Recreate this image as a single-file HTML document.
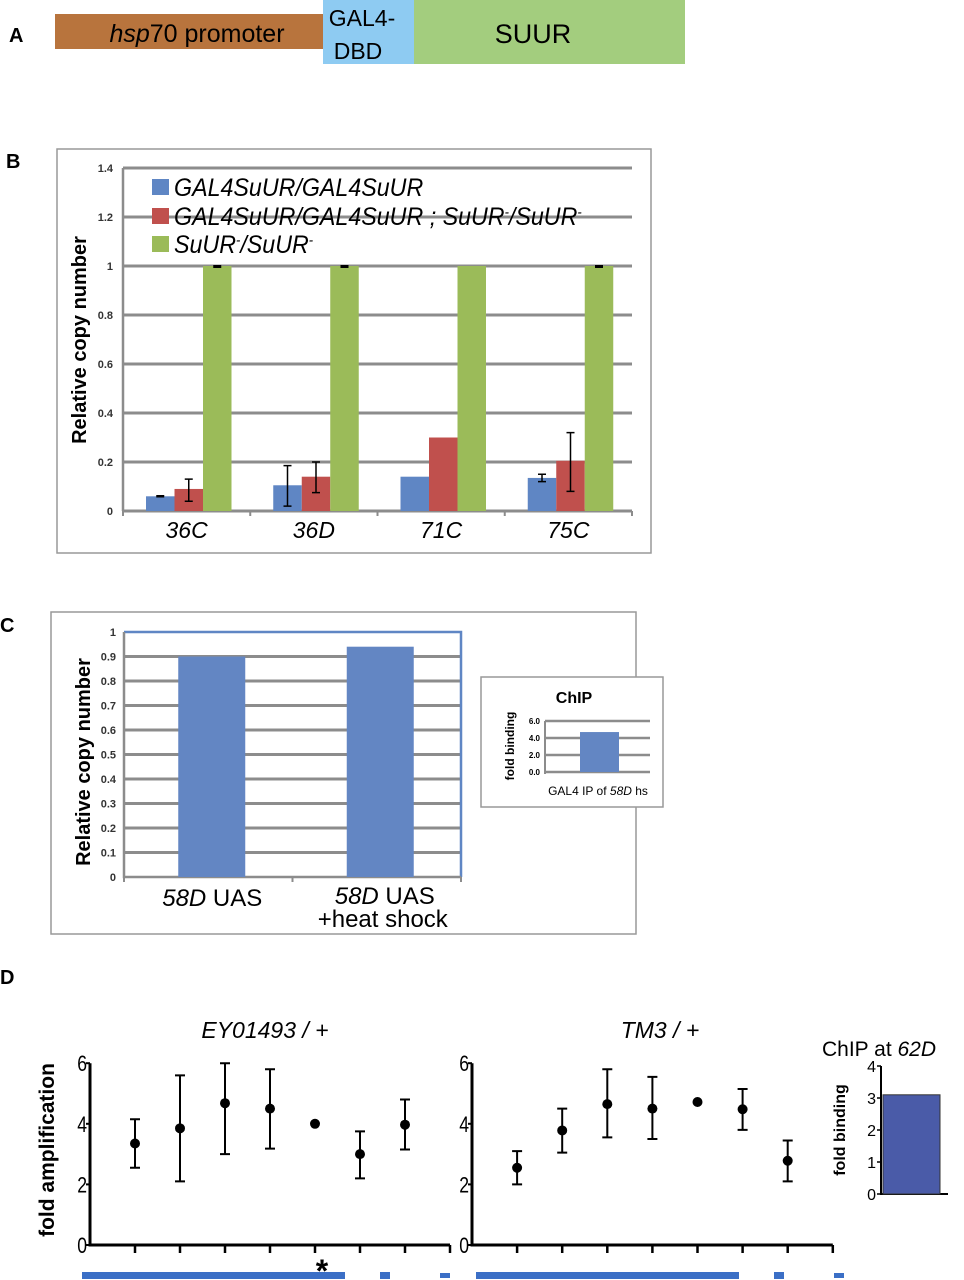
<!DOCTYPE html>
<html><head><meta charset="utf-8"><style>
body{margin:0;background:#fff;}
svg{display:block;font-family:"Liberation Sans",sans-serif;}
</style></head><body>
<svg id="fig" width="964" height="1280" viewBox="0 0 964 1280" xmlns="http://www.w3.org/2000/svg">
<!-- Panel A -->
<g>
<text x="9" y="42" font-size="20" font-weight="bold">A</text>
<rect x="55" y="14" width="268" height="35" fill="#b8743d"/>
<text x="197" y="42" font-size="25" text-anchor="middle"><tspan font-style="italic">hsp</tspan>70 promoter</text>
<rect x="323" y="0" width="91" height="64" fill="#8ecbf2"/>
<text x="362" y="26" font-size="23" text-anchor="middle">GAL4-</text>
<text x="358" y="59" font-size="23" text-anchor="middle">DBD</text>
<rect x="414" y="0" width="271" height="64" fill="#a3cd7e"/>
<text x="533" y="43" font-size="27" text-anchor="middle">SUUR</text>
</g>
<!-- Panel B -->
<g id="pb">
<text x="6" y="168" font-size="20" font-weight="bold">B</text>
<rect x="57" y="149" width="594" height="404" fill="none" stroke="#999" stroke-width="1.5"/>
<text transform="translate(86,340) rotate(-90)" font-size="20" font-weight="bold" text-anchor="middle">Relative copy number</text>
</g>
<!-- Panel C -->
<g id="pc">
<text x="0" y="632" font-size="20" font-weight="bold">C</text>
<rect x="51" y="612" width="585" height="322" fill="none" stroke="#999" stroke-width="1.5"/>
<text transform="translate(90,762) rotate(-90)" font-size="20" font-weight="bold" text-anchor="middle">Relative copy number</text>
<rect x="481" y="677" width="182" height="130" fill="#fff" stroke="#999" stroke-width="1.5"/>
<text x="574" y="703" font-size="16" font-weight="bold" text-anchor="middle">ChIP</text>
<text transform="translate(514,746) rotate(-90)" font-size="12" font-weight="bold" text-anchor="middle">fold binding</text>
<text x="598" y="795" font-size="12" text-anchor="middle">GAL4 IP of <tspan font-style="italic">58D</tspan> hs</text>
</g>
<!-- Panel D -->
<g id="pd">
<text x="0" y="984" font-size="20" font-weight="bold">D</text>
<text x="265" y="1038" font-size="23" font-style="italic" text-anchor="middle">EY01493 / +</text>
<text x="660" y="1038" font-size="23" font-style="italic" text-anchor="middle">TM3 / +</text>
<text x="822" y="1056" font-size="21">ChIP at <tspan font-style="italic">62D</tspan></text>
<text transform="translate(54,1150) rotate(-90)" font-size="21" font-weight="bold" text-anchor="middle">fold amplification</text>
<text transform="translate(845,1130) rotate(-90)" font-size="16" font-weight="bold" text-anchor="middle">fold binding</text>
<text x="322" y="1282" font-size="32" font-weight="bold" text-anchor="middle">*</text>
</g>
</svg>
<script>
var NS="http://www.w3.org/2000/svg";
// Panel B data
var bCategories=["36C","36D","71C","75C"];
var bBlue=[0.06,0.105,0.14,0.135];
var bBlueLo=[0.058,0.02,null,0.12];
var bBlueHi=[0.062,0.185,null,0.15];
var bRed=[0.09,0.14,0.30,0.205];
var bRedLo=[0.04,0.075,null,0.08];
var bRedHi=[0.13,0.2,null,0.32];
var bGreen=[1,1,1,1];
var bTicks=[0,0.2,0.4,0.6,0.8,1,1.2,1.4];
var bTickLabels=["0","0.2","0.4","0.6","0.8","1","1.2","1.4"];
// Panel C data
var cCategories=["58D UAS","58D UAS +heat shock"];
var cValues=[0.9,0.94];
var cTicks=[0,0.1,0.2,0.3,0.4,0.5,0.6,0.7,0.8,0.9,1];
var chipTicks=[0,2,4,6];
var chipTickLabels=["0.0","2.0","4.0","6.0"];
var chipValue=[4.7];
// Panel D data
var dLeftMean=[3.35,3.85,4.68,4.5,4.0,3.0,3.97];
var dLeftLo=[2.55,2.1,3.0,3.18,null,2.2,3.15];
var dLeftHi=[4.15,5.6,6.0,5.8,null,3.75,4.8];
var dRightMean=[2.55,3.78,4.65,4.5,4.72,4.48,2.78];
var dRightLo=[2.0,3.05,3.55,3.5,null,3.8,2.1];
var dRightHi=[3.1,4.5,5.8,5.55,null,5.15,3.45];
var dTicks=[0,2,4,6];
var chip62Ticks=[0,1,2,3,4];
var chip62Value=[3.1];

function mk(parent,tag,attrs,txt){var e=document.createElementNS(NS,tag);for(var k in attrs)e.setAttribute(k,attrs[k]);if(txt!=null)e.textContent=txt;parent.appendChild(e);return e;}

// ---- Panel B ----
(function(){
var g=document.getElementById('pb');
var x0=123,x1=632,y0=511,yPer=245;
function y(v){return y0-v*yPer;}
var band=(x1-x0)/bCategories.length;
bTicks.forEach(function(t,i){
 if(t>0){var l=mk(g,'line',{x1:x0,x2:x1,y1:y(t),y2:y(t),stroke:'#8c8c8c','stroke-width':3});
 
 }
 var tx=mk(g,'text',{x:x0-10,y:y(t)+4,'font-size':11,'font-weight':'bold','text-anchor':'end',fill:'#333'},bTickLabels[i]);
 
 
});
var ax=mk(g,'line',{x1:x0,x2:x0,y1:y(1.4),y2:y0,stroke:'#8c8c8c','stroke-width':2.5});


var xa=mk(g,'line',{x1:x0,x2:x1,y1:y0,y2:y0,stroke:'#8c8c8c','stroke-width':3});


for(var i=0;i<=bCategories.length;i++){var tk=mk(g,'line',{x1:x0+i*band,x2:x0+i*band,y1:y0,y2:y0+5,stroke:'#8c8c8c','stroke-width':2});
 
 }
var colors=['#5f86c4','#c0504d','#9bbb59'];
var series=[[bBlue,bBlueLo,bBlueHi],[bRed,bRedLo,bRedHi],[bGreen,null,null]];
var bw=28.5;
bCategories.forEach(function(c,ci){
 var gx=x0+ci*band+23;
 series.forEach(function(s,si){
  var v=s[0][ci];var bx=gx+si*bw;
  var r=mk(g,'rect',{x:bx,y:y(v),width:bw,height:y0-y(v),fill:colors[si]});
  
  
  var cx=bx+bw/2;
  if(s[1]&&s[1][ci]!=null){
   var e=mk(g,'path',{d:'M'+(cx-4)+','+y(s[2][ci])+'H'+(cx+4)+'M'+cx+','+y(s[2][ci])+'V'+y(s[1][ci])+'M'+(cx-4)+','+y(s[1][ci])+'H'+(cx+4),stroke:'#000','stroke-width':1.5,fill:'none'});
   
   
  }
  if(si==2&&ci!=2){var e2=mk(g,'rect',{x:cx-4,y:y(v)-1,width:8,height:3,fill:'#000'});
   
   }
 });
 var lt=mk(g,'text',{x:x0+ci*band+band/2,y:538,'font-size':23,'font-style':'italic','text-anchor':'middle'},c);
 
 
});
var legY=[187,216,244];
// each entry: list of [text, isSuperscript]
var legParts=[[['GAL4SuUR/GAL4SuUR',0]],[['GAL4SuUR/GAL4SuUR ; SuUR',0],['-',1],['/SuUR',0],['-',1]],[['SuUR',0],['-',1],['/SuUR',0],['-',1]]];
legY.forEach(function(ly,i){
 var s=mk(g,'rect',{x:152,y:ly-8,width:17,height:16,fill:colors[i]});
 
 
 var t=mk(g,'text',{x:174,y:ly+9,'font-size':25,'font-style':'italic',transform:'translate(174,0) scale(0.93,1) translate(-174,0)'});
 
 
 legParts[i].forEach(function(p){
  if(p[1]) mk(t,'tspan',{'font-size':14,'baseline-shift':'60%'},p[0]);
  else mk(t,'tspan',{},p[0]);
 });
});
})();

// ---- Panel C ----
(function(){
var g=document.getElementById('pc');
var x0=124,x1=461,y0=877,yPer=245;
function y(v){return y0-v*yPer;}
cTicks.forEach(function(t){
 if(t>0&&t<1){var l=mk(g,'line',{x1:x0,x2:x1,y1:y(t),y2:y(t),stroke:'#8c8c8c','stroke-width':3});
 
 }
 var tx=mk(g,'text',{x:x0-8,y:y(t)+4,'font-size':11,'font-weight':'bold','text-anchor':'end',fill:'#333'},String(t));
 
 
});
var top=mk(g,'path',{d:'M'+x0+','+y(1)+'H'+x1+'V'+y0,stroke:'#5f86c4','stroke-width':2.5,fill:'none'});


var ax=mk(g,'path',{d:'M'+x0+','+y(1)+'V'+y0+'H'+x1,stroke:'#8c8c8c','stroke-width':2.5,fill:'none'});


var band=(x1-x0)/cCategories.length;
for(var i=0;i<=2;i++){var tk=mk(g,'line',{x1:x0+i*band,x2:x0+i*band,y1:y0,y2:y0+5,stroke:'#8c8c8c','stroke-width':2});
 
 }
cValues.forEach(function(v,i){
 var bx=x0+i*band+band/2-30;
 var r=mk(g,'rect',{x:bx,y:y(v),width:67,height:y0-y(v),fill:'#6386c3'});
 
 
});
var l1=mk(g,'text',{x:x0+band/2+4,y:906,'font-size':24,'text-anchor':'middle'});


mk(l1,'tspan',{'font-style':'italic'},'58D');mk(l1,'tspan',{},' UAS');
var l2=mk(g,'text',{x:x0+band*1.5+8,y:904,'font-size':24,'text-anchor':'middle'});


mk(l2,'tspan',{'font-style':'italic'},'58D');mk(l2,'tspan',{},' UAS');
var l3=mk(g,'text',{x:x0+band*1.5+6,y:927,'font-size':24,'text-anchor':'middle'},'+heat shock');


// inset
var ix0=545,ix1=650,iy0=772,iPer=51/6;
function iy(v){return iy0-v*iPer;}
chipTicks.forEach(function(t,i){
 var l=mk(g,'line',{x1:ix0,x2:ix1,y1:iy(t),y2:iy(t),stroke:'#8c8c8c','stroke-width':2.5});
 
 
 var tx=mk(g,'text',{x:ix0-5,y:iy(t)+3,'font-size':8,'font-weight':'bold','text-anchor':'end'},chipTickLabels[i]);
 
 
});
var ia=mk(g,'line',{x1:ix0,x2:ix0,y1:iy(6),y2:iy0+2,stroke:'#8c8c8c','stroke-width':2});


var ib=mk(g,'rect',{x:580,y:iy(chipValue[0]),width:39,height:iy0-iy(chipValue[0]),fill:'#6386c3'});


})();

// ---- Panel D ----
(function(){
var g=document.getElementById('pd');
var y0=1245,yPer=30.3;
function y(v){return y0-v*yPer;}
function plot(ax0,spacing,mean,lo,hi,side){
 var a=mk(g,'path',{d:'M'+ax0+','+y(6)+'V'+y0+'H'+(ax0+spacing*8),stroke:'#000','stroke-width':3,fill:'none'});
 
 
 for(var i=1;i<=8;i++){var tk=mk(g,'line',{x1:ax0+i*spacing,x2:ax0+i*spacing,y1:y0,y2:y0+8,stroke:'#000','stroke-width':2.5});
  
  }
 dTicks.forEach(function(t){
  var tk=mk(g,'line',{x1:ax0-4,x2:ax0,y1:y(t),y2:y(t),stroke:'#000','stroke-width':2});
  
  
  var tx=mk(g,'text',{x:ax0-3,y:y(t)+8,'font-size':22,'text-anchor':'end',transform:'translate('+(ax0-3)+',0) scale(0.8,1) translate('+(-(ax0-3))+',0)'},String(t));
  
  
 });
 mean.forEach(function(m,i){
  var cx=ax0+(i+1)*spacing;
  if(lo[i]!=null){var e=mk(g,'path',{d:'M'+(cx-5)+','+y(hi[i])+'H'+(cx+5)+'M'+cx+','+y(hi[i])+'V'+y(lo[i])+'M'+(cx-5)+','+y(lo[i])+'H'+(cx+5),stroke:'#000','stroke-width':2,fill:'none'});
   
   }
  var p=mk(g,'circle',{cx:cx,cy:y(m),r:5,fill:'#000'});
  
  
 });
}
plot(90,45,dLeftMean,dLeftLo,dLeftHi,'left');
plot(472,45.1,dRightMean,dRightLo,dRightHi,'right');
// ChIP 62D
var cy0=1194,cPer=32;
function cy(v){return cy0-v*cPer;}
var ca=mk(g,'path',{d:'M881,'+cy(4)+'V'+cy0+'H948',stroke:'#000','stroke-width':2,fill:'none'});


chip62Ticks.forEach(function(t){
 var tk=mk(g,'line',{x1:877,x2:881,y1:cy(t),y2:cy(t),stroke:'#000','stroke-width':1.5});
 
 
 var tx=mk(g,'text',{x:876,y:cy(t)+6,'font-size':16,'text-anchor':'end'},String(t));
 
 
});
var cb=mk(g,'rect',{x:883,y:cy(chip62Value[0]),width:57,height:cy0-cy(chip62Value[0]),fill:'#4a5ba8',stroke:'#333','stroke-width':1});


// gene tracks
[[82,0],[476,1]].forEach(function(o){
 var gx=o[0];
 var tr=mk(g,'rect',{x:gx,y:1272,width:263,height:7,fill:'#3b6fc6'});
 
 
 var b1=mk(g,'rect',{x:gx+298,y:1272,width:10,height:7,fill:'#3b6fc6'});
 
 
 var b2=mk(g,'rect',{x:gx+358,y:1273,width:10,height:5,fill:'#3b6fc6'});
 
 
});
})();
</script>
</body></html>
